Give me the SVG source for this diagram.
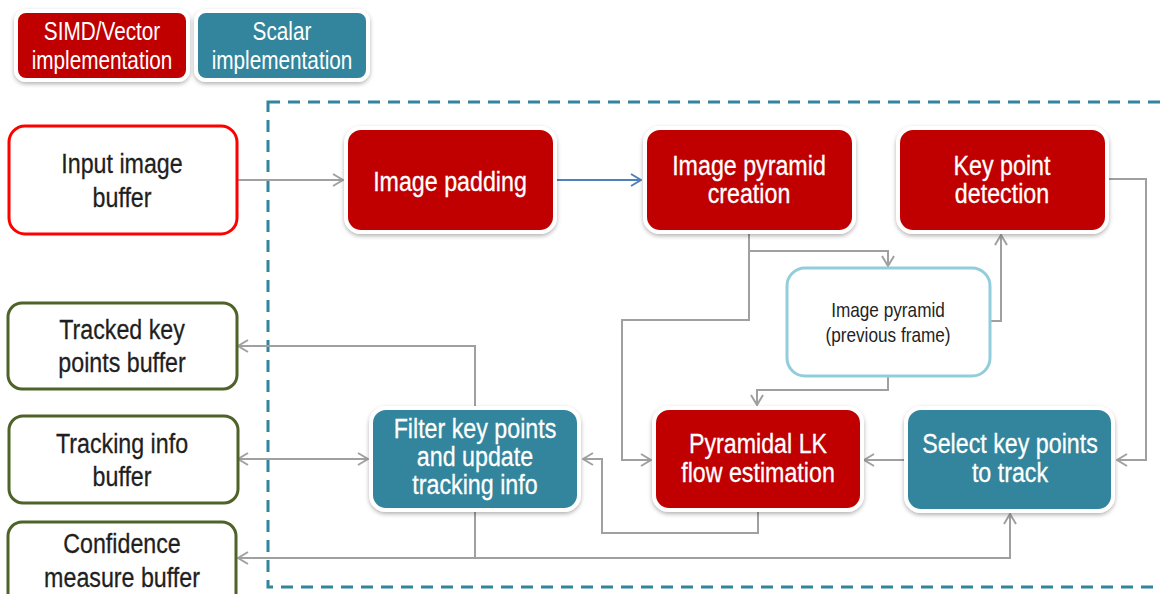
<svg xmlns="http://www.w3.org/2000/svg" width="1161" height="594" viewBox="0 0 1161 594">
<style>
.t{font-family:"Liberation Sans Narrow","Arial Narrow","Liberation Sans",sans-serif;text-anchor:middle;transform-box:fill-box;transform-origin:center;transform:scaleX(0.83)}
.w{fill:#ffffff;font-size:28px;stroke:#ffffff;stroke-width:0.3}
.k{fill:#1f1f1f;font-size:28px;stroke:#1f1f1f;stroke-width:0.3}
.lg{fill:#ffffff;font-size:25px}
.sm{fill:#1f1f1f;font-size:20px;transform:scaleX(0.86)}
.red{fill:#c00000;stroke:#ffffff;stroke-width:4;filter:url(#sh)}
.teal{fill:#31859c;stroke:#ffffff;stroke-width:4;filter:url(#sh)}
.buf{fill:#ffffff;stroke:#4f6228;stroke-width:3}
.c{fill:none;stroke:#a0a0a0;stroke-width:2;marker-end:url(#ah)}
</style>
<defs>
<filter id="sh" x="-10%" y="-10%" width="120%" height="130%">
<feDropShadow dx="0" dy="2" stdDeviation="2" flood-color="#000000" flood-opacity="0.3"/>
</filter>
<marker id="ah" viewBox="0 0 12 14" markerWidth="12" markerHeight="14" refX="11" refY="7" orient="auto-start-reverse" markerUnits="userSpaceOnUse">
<path d="M1,1 L11,7 L1,13" fill="none" stroke="#a0a0a0" stroke-width="2"/>
</marker>
<marker id="ahb" viewBox="0 0 12 14" markerWidth="12" markerHeight="14" refX="11" refY="7" orient="auto" markerUnits="userSpaceOnUse">
<path d="M1,1 L11,7 L1,13" fill="none" stroke="#4f81bd" stroke-width="2"/>
</marker>
</defs>
<rect width="1161" height="594" fill="#ffffff"/>
<g id="legend-simd">
<rect class="red" x="16" y="11" width="172" height="69" rx="10"/>
<text class="t lg" x="102" y="40">SIMD/Vector</text>
<text class="t lg" x="102" y="69">implementation</text>
</g>
<g id="legend-scalar">
<rect class="teal" x="196" y="11" width="172" height="69" rx="10"/>
<text class="t lg" x="282" y="40">Scalar</text>
<text class="t lg" x="282" y="69">implementation</text>
</g>
<rect id="boundary" x="268" y="102" width="920" height="485" fill="none" stroke="#31859c" stroke-width="3" stroke-dasharray="12 8"/>
<g id="connectors">
<path class="c" d="M237,180 H343"/>
<path d="M557,180 H641" fill="none" stroke="#4f81bd" stroke-width="2" marker-end="url(#ahb)"/>
<path class="c" d="M749,232 V251 H888 V266"/>
<path class="c" d="M749,232 V320 H622 V460 H651"/>
<path class="c" d="M990,321 H1001 V235"/>
<path class="c" d="M888,376 V390 H757 V405"/>
<path class="c" d="M1107,179 H1146 V460 H1117"/>
<path class="c" d="M906,460 H864"/>
<path class="c" d="M758,512 V533 H602 V459 H583"/>
<path class="c" d="M475,408 V346 H238"/>
<path class="c" d="M238,459 H368" marker-start="url(#ah)"/>
<path class="c" d="M475,511 V558 H238"/>
<path class="c" d="M475,558 H1010 V514"/>
</g>
<g id="input-image-buffer">
<rect x="9" y="126" width="228" height="108" rx="16" fill="#ffffff" stroke="#ff0000" stroke-width="3"/>
<text class="t k" x="122" y="173">Input image</text>
<text class="t k" x="122" y="207">buffer</text>
</g>
<g id="image-padding">
<rect class="red" x="346" y="128" width="209" height="104" rx="15"/>
<text class="t w" x="450" y="191">Image padding</text>
</g>
<g id="image-pyramid-creation">
<rect class="red" x="645" y="128" width="209" height="104" rx="15"/>
<text class="t w" x="749" y="175">Image pyramid</text>
<text class="t w" x="749" y="203">creation</text>
</g>
<g id="key-point-detection">
<rect class="red" x="898" y="128" width="209" height="104" rx="15"/>
<text class="t w" x="1002" y="175">Key point</text>
<text class="t w" x="1002" y="203">detection</text>
</g>
<g id="image-pyramid-previous">
<rect x="787" y="268" width="203" height="108" rx="18" fill="#ffffff" stroke="#92cddc" stroke-width="3"/>
<text class="t sm" x="888" y="317">Image pyramid</text>
<text class="t sm" x="888" y="342">(previous frame)</text>
</g>
<g id="tracked-key-points-buffer">
<rect x="8" y="303" width="229" height="86" rx="14" class="buf"/>
<text class="t k" x="122" y="339">Tracked key</text>
<text class="t k" x="122" y="372">points buffer</text>
</g>
<g id="tracking-info-buffer">
<rect x="9" y="416" width="229" height="87" rx="14" class="buf"/>
<text class="t k" x="122" y="453">Tracking info</text>
<text class="t k" x="122" y="486">buffer</text>
</g>
<g id="confidence-measure-buffer">
<rect x="8" y="522" width="228" height="90" rx="14" class="buf"/>
<text class="t k" x="122" y="553">Confidence</text>
<text class="t k" x="122" y="587">measure buffer</text>
</g>
<g id="filter-key-points">
<rect class="teal" x="371" y="408" width="208" height="102" rx="15"/>
<text class="t w" x="475" y="438">Filter key points</text>
<text class="t w" x="475" y="466">and update</text>
<text class="t w" x="475" y="494">tracking info</text>
</g>
<g id="pyramidal-lk">
<rect class="red" x="654" y="408" width="208" height="102" rx="15"/>
<text class="t w" x="758" y="453">Pyramidal LK</text>
<text class="t w" x="758" y="482">flow estimation</text>
</g>
<g id="select-key-points">
<rect class="teal" x="906" y="408" width="207" height="103" rx="15"/>
<text class="t w" x="1010" y="453">Select key points</text>
<text class="t w" x="1010" y="482">to track</text>
</g>
</svg>
